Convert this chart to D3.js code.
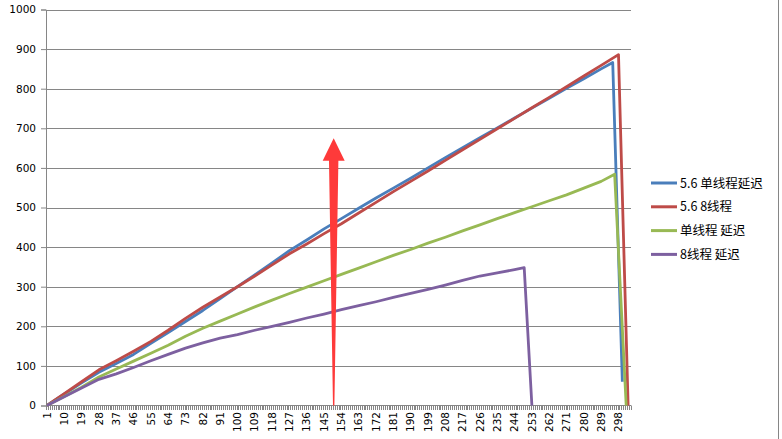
<!DOCTYPE html>
<html><head><meta charset="utf-8">
<script src="https://cdn.jsdelivr.net/npm/d3@7"></script>
<style>html,body{margin:0;padding:0;background:#fff;}svg{display:block;}</style>
</head><body>
<script>
// ---- data ----
const categories = d3.range(1, 305);
const yTicks = [0,100,200,300,400,500,600,700,800,900,1000];
const sampleCats = [1,10,19,28,37,46,55,64,73,82,91,100,109,118,127,136,145,154,163,172,181,190,199,208,217,226,235,244,253,262,271,280,289];
const seriesNames = ["5.6 单线程延迟", "5.6 8线程", "单线程 延迟", "8线程 延迟"];
const seriesColors = ["#4a7ebb", "#be4b48", "#98b954", "#7d60a0"];
const blueVals = [0,29,57,84,106,129,157,184,212,240,270,300,330,360,391,418,446,472,498,524,549,574,600,626,651,676,701,726,751,776,801,825,850];
const blueTail = [[295,866],[300,60]];
const redVals = [0,30,60,90,113,137,162,190,220,248,274,300,327,355,383,408,434,459,486,513,540,566,592,619,646,672,699,725,752,778,805,832,859];
const redTail = [[298,886],[303,0]];
const greenVals = [0,23,46,72,92,112,132,152,175,195,213,231,249,266,283,299,315,331,347,363,379,394,410,425,441,456,472,487,502,517,532,549,566];
const greenTail = [[296,584],[302,0]];
const purpleVals = [0,22,44,66,80,96,113,129,145,158,170,179,190,200,210,221,231,242,252,262,273,283,293,304,316,327,335,343];
const purpleTail = [[249,348],[253,0]];
const arrowCat = 150, arrowTopVal = 675;

// ---- chart ----
const W = 782, H = 439;
const svg = d3.select("body").append("svg").attr("width", W).attr("height", H);
const pLeft = 46, pRight = 631, pTop = 9.5, pBottom = 405.5;
const x = d3.scaleBand().domain(categories).range([pLeft, pRight]).padding(0);
const xc = c => x(c) + x.bandwidth() / 2;
const y = d3.scaleLinear().domain([0, 1000]).range([pBottom, pTop]);
const grey = "#868686";
const axisFont = "'DejaVu Sans', Verdana, sans-serif";

// gridlines
svg.append("g").selectAll("line").data(yTicks.filter(d => d > 0)).join("line")
  .attr("x1", pLeft).attr("x2", pRight)
  .attr("y1", d => Math.round(y(d)) + 0.5).attr("y2", d => Math.round(y(d)) + 0.5)
  .attr("stroke", grey).attr("stroke-width", 1);

// y axis
const yAxis = d3.axisLeft(y).tickValues(yTicks).tickSize(5).tickFormat(d3.format("d"));
const gy = svg.append("g").attr("transform", `translate(${pLeft},0)`).call(yAxis);
gy.select(".domain").attr("stroke", grey);
gy.selectAll(".tick line").attr("stroke", grey);
gy.selectAll(".tick text").attr("x", -10).attr("font-family", axisFont).attr("font-size", "10.5px").attr("fill", "#000");

// x axis: ticks at category boundaries
svg.append("line").attr("x1", pLeft).attr("x2", pRight).attr("y1", pBottom).attr("y2", pBottom).attr("stroke", grey);
svg.append("g").selectAll("line").data(categories.concat([null])).join("line")
  .attr("x1", (d, i) => Math.round(pLeft + i * x.bandwidth()) + 0.5)
  .attr("x2", (d, i) => Math.round(pLeft + i * x.bandwidth()) + 0.5)
  .attr("y1", pBottom).attr("y2", pBottom + 4.5)
  .attr("stroke", grey).attr("stroke-width", 1);
svg.append("g").selectAll("text").data(categories.filter(c => (c - 1) % 9 === 0)).join("text")
  .attr("transform", c => `translate(${xc(c)},${pBottom + 6.5}) rotate(-90)`)
  .attr("dy", "0.35em").attr("text-anchor", "end")
  .attr("font-family", axisFont).attr("font-size", "10.5px").attr("fill", "#000")
  .text(c => c);

// series
const mk = (vals, tail) => sampleCats.slice(0, vals.length).map((c, i) => ({c, v: vals[i]}))
  .concat(tail.map(t => ({c: t[0], v: t[1]})));
const series = [mk(blueVals, blueTail), mk(redVals, redTail), mk(greenVals, greenTail), mk(purpleVals, purpleTail)];
const line = d3.line().x(d => xc(d.c)).y(d => y(d.v));
svg.append("g").selectAll("path").data(series).join("path")
  .attr("d", line).attr("fill", "none")
  .attr("stroke", (d, i) => seriesColors[i]).attr("stroke-width", 2.8)
  .attr("stroke-linejoin", "round").attr("stroke-linecap", "butt");

// arrow annotation
const ax = xc(arrowCat), ayTop = y(arrowTopVal), ayBot = y(0);
const arrowPts = [
  [ax, ayTop], [ax + 11, ayTop + 22.5], [ax + 4.7, ayTop + 22.5], [ax + 0.7, ayBot],
  [ax - 0.7, ayBot], [ax - 4.7, ayTop + 22.5], [ax - 11, ayTop + 22.5]
];
svg.append("path").attr("d", d3.line()(arrowPts) + "Z").attr("fill", "#fe3a3a");

// legend
const lg = svg.append("g");
seriesNames.forEach((name, i) => {
  const ly = 183 + i * 23.8;
  lg.append("line").attr("x1", 651).attr("x2", 677).attr("y1", ly).attr("y2", ly)
    .attr("stroke", seriesColors[i]).attr("stroke-width", 3);
  lg.append("text").attr("x", 680).attr("y", ly).attr("dy", "0.36em")
    .attr("font-family", "'Noto Sans CJK SC', sans-serif").attr("font-size", "12.5px").attr("fill", "#000")
    .text(name);
});

// right border
svg.append("line").attr("x1", 778.5).attr("x2", 778.5).attr("y1", 0).attr("y2", H).attr("stroke", grey);
</script>
</body></html>
